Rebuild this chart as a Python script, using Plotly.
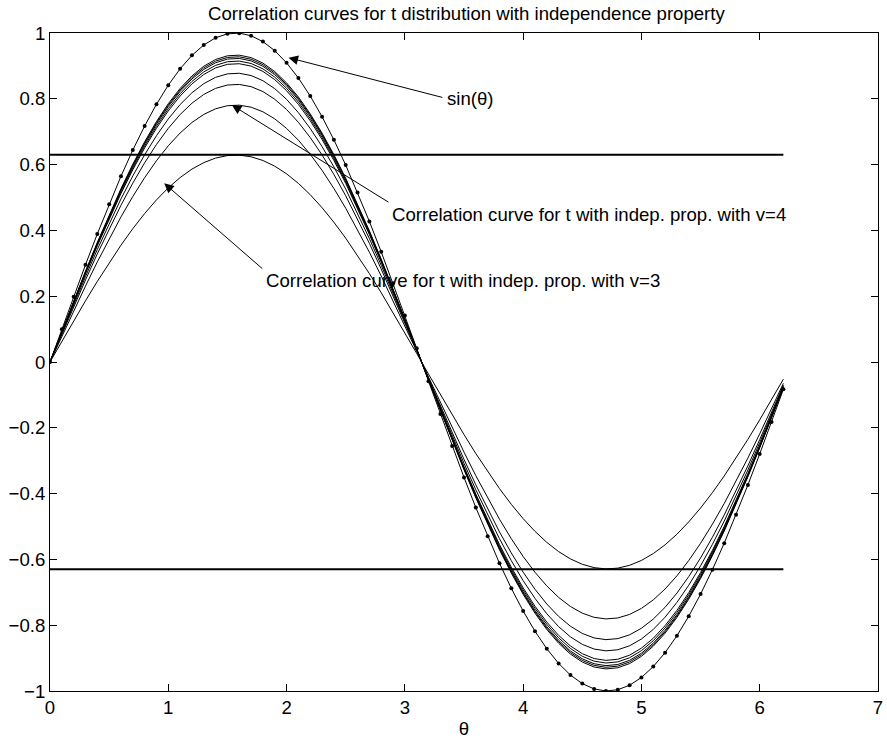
import numpy as np
import plotly.graph_objects as go

# Angle grid (radians), 0 to 6.2 in steps of 0.1
theta = np.round(np.arange(0, 63) * 0.1, 1)

# Degrees of freedom and the peak correlation of each t curve
nu_values = [3, 4, 5, 6, 7, 8, 9, 10, 11]
peak_corr = [0.629, 0.781, 0.844, 0.878, 0.907, 0.915, 0.923, 0.928, 0.933]

# Reference levels drawn as thick horizontal lines
ref_levels = [0.63, -0.63]

x_ticks = [0, 1, 2, 3, 4, 5, 6, 7]
y_ticks = [-1, -0.8, -0.6, -0.4, -0.2, 0, 0.2, 0.4, 0.6, 0.8, 1]

FONT = "Liberation Sans, Arial, Helvetica, sans-serif"
FS = 18.6

fig = go.Figure()

for nu, amp in zip(nu_values, peak_corr):
    fig.add_trace(go.Scatter(
        x=theta, y=amp * np.sin(theta), mode="lines",
        line=dict(color="black", width=1), name=f"v={nu}",
        hoverinfo="skip"))

fig.add_trace(go.Scatter(
    x=theta, y=np.sin(theta), mode="lines+markers",
    line=dict(color="black", width=1),
    marker=dict(color="black", size=4), name="sin(θ)"))

for lvl in ref_levels:
    fig.add_trace(go.Scatter(
        x=[theta[0], theta[-1]], y=[lvl, lvl], mode="lines",
        line=dict(color="black", width=2.2), hoverinfo="skip"))

# Labels with arrows: (text, arrow head x, head y, tail x, tail y, text x, text y)
labels = [
    ("sin(θ)", 2.017, 0.925, 3.33, 0.803, 3.336, 0.802),
    ("Correlation curve for t with indep. prop. with v=4", 1.538, 0.781, 2.874, 0.483, 2.874, 0.447),
    ("Correlation curve for t with indep. prop. with v=3", 0.966, 0.543, 1.807, 0.280, 1.807, 0.249),
]
for txt, hx, hy, tx, ty, lx, ly in labels:
    fig.add_annotation(x=hx, y=hy, ax=tx, ay=ty, xref="x", yref="y",
                       axref="x", ayref="y", text="", showarrow=True,
                       arrowhead=2, arrowsize=1.9, arrowwidth=1,
                       arrowcolor="black")
    fig.add_annotation(x=lx, y=ly, xref="x", yref="y", text=txt,
                       showarrow=False, xanchor="left", yanchor="middle",
                       font=dict(family=FONT, size=FS, color="black"))

axis_common = dict(
    showgrid=False, zeroline=False, showline=True, linecolor="black",
    linewidth=1, mirror="ticks", ticks="inside", ticklen=7,
    tickcolor="black", tickwidth=1, ticklabeloverflow="allow",
    tickfont=dict(family=FONT, size=FS, color="black"))

fig.update_xaxes(range=[0, 7], tickvals=x_ticks, ticktext=[str(v) for v in x_ticks],
                 title=dict(text="θ", font=dict(family=FONT, size=FS), standoff=4),
                 **axis_common)
fig.update_yaxes(range=[-1, 1], tickvals=y_ticks,
                 ticktext=[("−" if v < 0 else "") + f"{abs(v):g}" for v in y_ticks],
                 **axis_common)

fig.update_layout(
    width=887, height=740,
    margin=dict(l=50, r=4, t=33, b=49),
    paper_bgcolor="white", plot_bgcolor="white",
    showlegend=False,
    title=dict(text="Correlation curves for t distribution with independence property",
               x=0.5258, xanchor="center", y=1 - 13 / 740, yanchor="middle",
               font=dict(family=FONT, size=FS, color="black")),
    font=dict(family=FONT, size=FS, color="black"),
)

fig.write_html("out.html")
